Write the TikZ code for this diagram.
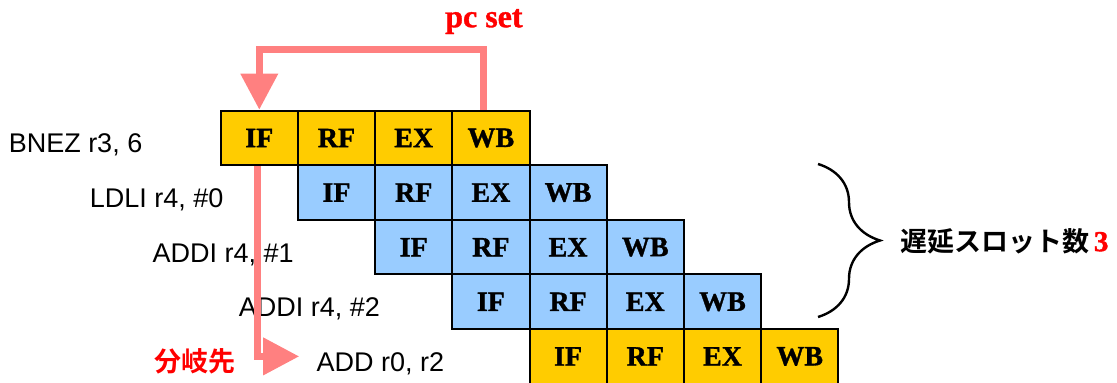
\documentclass[tikz,border=0pt]{standalone}
\usepackage{fontspec}
\setmainfont{Liberation Serif}[BoldFeatures={FakeBold=1.2}]
\setsansfont{Liberation Sans}
\newfontfamily\jpfont{Noto Sans CJK JP}[BoldFont={Noto Sans CJK JP Bold}]
\usetikzlibrary{positioning, calc, arrows.meta, decorations.pathreplacing}

\definecolor{stageY}{HTML}{FFCC00}
\definecolor{stageB}{HTML}{99CCFF}
\definecolor{pcpink}{HTML}{FF8080}
\definecolor{hotred}{HTML}{FF0000}

\tikzset{
  stage/.style={draw, line width=1pt, minimum width=38.6pt, minimum height=27.3pt,
    inner sep=0pt, font=\fontsize{14}{16}\selectfont\bfseries},
  instr/.style={inner sep=0pt, font=\sffamily\fontsize{13.5}{16}\selectfont},
  branch/.style={pcpink, line width=3.5pt, -{Triangle[length=18pt,width=18pt]}},
  jplabel/.style={inner sep=0pt, font=\jpfont\fontsize{13.5}{16}\selectfont\bfseries},
  redlabel/.style={inner sep=0pt, text=hotred, font=\fontsize{16}{18}\selectfont\bfseries},
}

\begin{document}
\begin{tikzpicture}[x=0.5pt, y=-0.5pt]
  \useasboundingbox (0,0) rectangle (1117,383);

  % one row of stages per instruction
  \foreach \r/\clr in {0/stageY,1/stageB,2/stageB,3/stageB,4/stageY} {
    \foreach \s [count=\c from 0] in {IF,RF,EX,WB}
      \node[stage, fill=\clr] (c\r\c) at ({259.3+77.2*(\r+\c)}, {138+54.6*\r}) {\s};
  }

  % instruction names left of each row
  \foreach \r/\txt/\gap in {0/{BNEZ r3, 6}/77, 1/{LDLI r4, \#0}/73, 2/{ADDI r4, \#1}/80,
                            3/{ADDI r4, \#2}/71, 4/{ADD r0, r2}/84}
    \node[instr, anchor=base east] (i\r) at ($(c\r0.west)+(-\gap,15)$) {\txt};

  % WB of the branch sets pc, fetch goes back to IF
  \coordinate (pctop) at ($(c03.north)+(-7,-60)$);
  \draw[branch] ($(c03.north)+(-7,0)$) -- (pctop) -| (c00.north);
  \node[redlabel, anchor=base] (pcset) at ($(pctop)+(0,-22.5)$) {pc set};

  % branch target
  \coordinate (dtip) at ($(i4.base west)+(-17,-15)$);
  \draw[branch] ($(c00.south)+(-1.5,0)$) |- (dtip);
  \node[jplabel, text=hotred, anchor=base east] (dest) at ($(i4.base west)+(-80,0)$) {分岐先};

  % delay slots
  \draw[decorate, decoration={brace, amplitude=31pt}, line width=1.2pt]
    (818,164) coordinate (bt) -- (818,317) coordinate (bb);
  \node[jplabel, anchor=west] (slots) at (900,241)
    {遅延スロット数\,{\rmfamily\fontsize{14.5}{16}\selectfont\bfseries\color{hotred}3}};
\end{tikzpicture}
\end{document}
